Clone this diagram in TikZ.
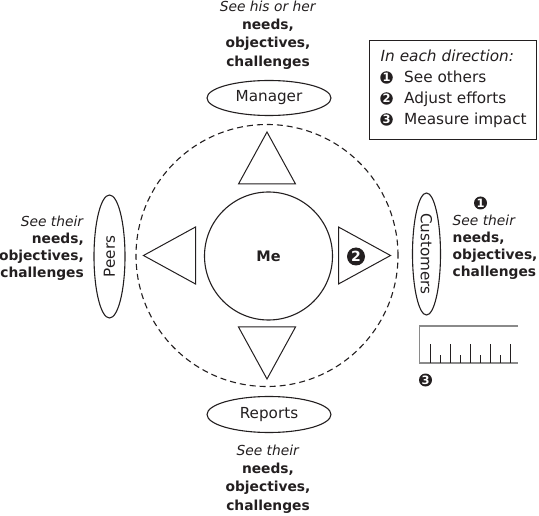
\documentclass[tikz,border=0pt]{standalone}
\usepackage{fontspec}
\setmainfont{DejaVu Sans}
\usetikzlibrary{shapes.geometric}
\definecolor{ink}{HTML}{231F20}
\definecolor{rulergrey}{HTML}{8A8A8A}
\tikzset{
  outline/.style={draw=ink, line width=1.1pt},
  oval/.style={outline, ellipse, inner sep=0pt, text=ink, font=\fontsize{15.2}{18}\selectfont},
  tri/.style={draw=ink, line width=1pt, line join=miter},
  badge/.style={circle, fill=ink, text=white, inner sep=0pt, minimum size=13pt,
    font=\bfseries\fontsize{11.5}{11.5}\selectfont},
  bodytop/.style={align=center, inner sep=0pt, anchor=north, text=ink,
    font=\fontsize{13.8}{18.3}\selectfont},
  bodyside/.style={inner sep=0pt, text=ink, font=\fontsize{13.8}{17}\selectfont},
  legendtext/.style={anchor=base west, inner sep=0pt, text=ink, font=\fontsize{15.3}{20}\selectfont},
}
\begin{document}
\begin{tikzpicture}[x=1pt,y=-1pt]
\useasboundingbox (0,0) rectangle (539,516);
% rings
\node[draw=ink, line width=1.1pt, dashed, dash pattern=on 6pt off 4pt, circle, minimum size=262pt, inner sep=0pt] (ring) at (267,255.5) {};
\node[outline, circle, minimum size=128pt, inner sep=0pt, font=\bfseries\fontsize{14.5}{18}\selectfont, text=ink] (me) at (268.5,256) {Me};
% triangles
\draw[tri] (267,132) -- (295.5,184) -- (238.5,184) -- cycle;
\draw[tri] (267,379) -- (295.5,327) -- (238.5,327) -- cycle;
\draw[tri] (143.5,255.5) -- (195.5,227) -- (195.5,284) -- cycle;
\draw[tri] (390.5,255.5) -- (338.5,227) -- (338.5,284) -- cycle;
% stakeholders
\node[oval, minimum width=124pt, minimum height=35pt] (manager) at (269,98) {Manager};
\node[oval, minimum width=124pt, minimum height=36pt] (reports) at (269,414.5) {Reports};
\node[oval, minimum width=31pt, minimum height=123pt] (peers) at (109.5,256.5) {};
\node[rotate=90, text=ink, font=\fontsize{15.2}{18}\selectfont] (peerslbl) at (peers.center) {Peers};
\node[oval, minimum width=28pt, minimum height=122pt] (customers) at (426.5,254) {};
\node[rotate=-90, text=ink, font=\fontsize{15.2}{18}\selectfont] (custlbl) at (customers.center) {Customers};
% text blocks
\node[bodytop] (mgrtext) at (268,0.5) {\textit{See his or her}\\\textbf{needs,}\\\textbf{objectives,}\\\textbf{challenges}};
\node[bodytop] (reptext) at (268,444.5) {\textit{See their}\\\textbf{needs,}\\\textbf{objectives,}\\\textbf{challenges}};
\node[bodyside, align=right, anchor=north east] (peertext) at (84,216) {\textit{See their}\\\textbf{needs,}\\\textbf{objectives,}\\\textbf{challenges}};
\node[bodyside, align=left, anchor=north west] (custtext) at (452.5,214.5) {\textit{See their}\\\textbf{needs,}\\\textbf{objectives,}\\\textbf{challenges}};
% badges
\node[badge, minimum size=18pt, font=\bfseries\fontsize{14}{14}\selectfont] (b2) at (356,256.5) {2};
\node[badge] (b1) at (480.5,203) {1};
\node[badge] (b3) at (425.5,380) {3};
% ruler
\draw[rulergrey, line width=1.6pt] (518,326) -- (419.5,326) -- (419.5,363) -- (518,363);
\foreach \x in {430,450,470,490,510} \draw[ink, line width=1pt] (\x,344) -- (\x,363);
\foreach \x in {440,460,480,500} \draw[ink, line width=1pt] (\x,355) -- (\x,363);
% legend
\node[draw=ink, line width=1.1pt, minimum width=167pt, minimum height=99pt, inner sep=0pt, anchor=north west] (legend) at (369,40) {};
\node[legendtext] (lg0) at (380.5,61.5) {\textit{In each direction:}};
\node[badge, minimum size=12.5pt] (lb1) at (386.5,77.5) {1};
\node[badge, minimum size=12.5pt] (lb2) at (386.5,98.5) {2};
\node[badge, minimum size=12.5pt] (lb3) at (386.5,119.5) {3};
\node[legendtext] (lg1) at (404,83) {See others};
\node[legendtext] (lg2) at (404,104) {Adjust efforts};
\node[legendtext] (lg3) at (404,125) {Measure impact};
\end{tikzpicture}
\end{document}
